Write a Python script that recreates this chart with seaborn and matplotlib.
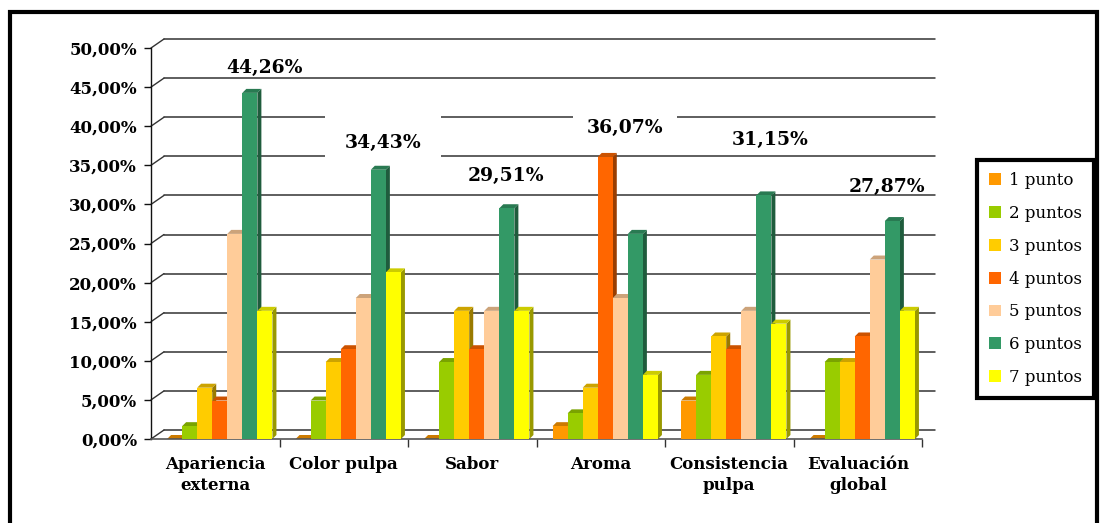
import numpy as np
import pandas as pd
import seaborn as sns
import matplotlib.pyplot as plt
from matplotlib.patches import Polygon, Rectangle
from matplotlib.colors import to_rgb

# ---- data (percentage of panelists per score) ----
atributos = ["Apariencia\nexterna", "Color pulpa", "Sabor", "Aroma",
             "Consistencia\npulpa", "Evaluación\nglobal"]
puntuaciones = ["1 punto", "2 puntos", "3 puntos", "4 puntos",
                "5 puntos", "6 puntos", "7 puntos"]
p1 = [0.00, 0.00, 0.00, 1.64, 4.92, 0.00]
p2 = [1.64, 4.92, 9.84, 3.28, 8.20, 9.84]
p3 = [6.56, 9.84, 16.39, 6.56, 13.11, 9.84]
p4 = [4.92, 11.48, 11.48, 36.07, 11.48, 13.11]
p5 = [26.23, 18.03, 16.39, 18.03, 16.39, 22.95]
p6 = [44.26, 34.43, 29.51, 26.23, 31.15, 27.87]
p7 = [16.39, 21.31, 16.39, 8.20, 14.75, 16.39]
y_ticks = [0, 5, 10, 15, 20, 25, 30, 35, 40, 45, 50]

series = [p1, p2, p3, p4, p5, p6, p7]
colores = ["#FF9900", "#99CC00", "#FFCC00", "#FF6600",
           "#FFCC99", "#339966", "#FFFF00"]

df = pd.DataFrame({
    "Atributo": atributos * len(puntuaciones),
    "Puntuación": [p for p in puntuaciones for _ in atributos],
    "Porcentaje": [v for s in series for v in s],
})

sns.set_style("white")
plt.rcParams["font.family"] = ["DejaVu Serif"]
plt.rcParams["text.color"] = "black"
plt.rcParams["xtick.color"] = "black"
plt.rcParams["ytick.color"] = "black"

W, H = 1106, 523
fig = plt.figure(figsize=(W / 100, H / 100), dpi=100)
ax = fig.add_axes([151 / W, 1 - 439 / H, (922 - 151) / W, (439 - 48) / H])

sns.barplot(data=df, x="Atributo", y="Porcentaje", hue="Puntuación",
            order=atributos, hue_order=puntuaciones, palette=colores,
            saturation=1, width=0.82, dodge=True, legend=False,
            edgecolor="none", linewidth=0, ax=ax)

n_cat = len(atributos)
ax.set_xlim(-0.5, n_cat - 0.5)
ax.set_ylim(0, 50)

# pixel -> data conversions
px_x = n_cat / (922 - 151)
px_y = 50 / (439 - 48)

# back wall gridlines (3-D look)
wall_dx, wall_dy = 13 * px_x, 9 * px_y
for v in y_ticks:
    ax.plot([-0.5 + wall_dx, n_cat - 0.5 + wall_dx], [v + wall_dy] * 2,
            color="#333333", lw=1.1, clip_on=False, zorder=0.5)
    ax.plot([-0.5, -0.5 + wall_dx], [v, v + wall_dy],
            color="#333333", lw=1.0, clip_on=False, zorder=0.5)


def shade(c, f):
    r, g, b = to_rgb(c)
    return (r * f, g * f, b * f)


# 3-D bar faces
bars = [p for p in ax.patches if isinstance(p, Rectangle)]
shift = 4.5 * px_x
ddx, ddy = 4 * px_x, 4 * px_y
for b in bars:
    b.set_x(b.get_x() + shift)
    b.set_zorder(3)
    x0, w, h = b.get_x(), b.get_width(), b.get_height()
    x1 = x0 + w
    fc = b.get_facecolor()
    side = Polygon([(x1, 0), (x1 + ddx, ddy), (x1 + ddx, h + ddy), (x1, h)],
                   closed=True, facecolor=shade(fc, 0.6), edgecolor="none",
                   zorder=2, clip_on=False)
    top = Polygon([(x0, h), (x0 + ddx, h + ddy), (x1 + ddx, h + ddy), (x1, h)],
                  closed=True, facecolor=shade(fc, 0.8), edgecolor="none",
                  zorder=2, clip_on=False)
    ax.add_patch(side)
    ax.add_patch(top)

# value labels for the highest score of each attribute
label_offsets = [(15, 25), (5, 27), (-1, 32), (20, 29), (6, 55), (-5, 34)]
label_pads = [None, 14, None, 10, None, None]
for i in range(n_cat):
    vals = [s[i] for s in series]
    j = int(np.argmax(vals))
    b = bars[j * n_cat + i]
    cx = b.get_x() + b.get_width() / 2
    dx, dy = label_offsets[i]
    box = None
    if label_pads[i] is not None:
        box = dict(facecolor="white", edgecolor="none", pad=label_pads[i])
    ax.annotate(f"{vals[j]:.2f}%".replace(".", ","), xy=(cx, b.get_height()),
                xytext=(dx, dy), textcoords="offset pixels",
                ha="center", va="center", fontsize=13.5, fontweight="bold",
                bbox=box, zorder=1, annotation_clip=False)

# axes styling
sns.despine(ax=ax, top=True, right=True)
ax.spines["left"].set_color("#111111")
ax.spines["left"].set_linewidth(1.0)
ax.spines["bottom"].set_color("#555555")
ax.spines["bottom"].set_linewidth(1.2)
ax.set_yticks(y_ticks)
ax.set_yticklabels([f"{v:.2f}%".replace(".", ",") for v in y_ticks],
                   fontsize=12, fontweight="bold")
ax.tick_params(axis="y", length=5, width=1, color="#111111", pad=5, left=True)
ax.set_xticks(range(n_cat))
ax.set_xticklabels(atributos, fontsize=12, fontweight="bold", linespacing=1.3)
ax.tick_params(axis="x", length=0, pad=12)
ax.set_xticks([k + 0.5 for k in range(n_cat)], minor=True)
ax.tick_params(axis="x", which="minor", length=6, width=1, color="#333333",
               bottom=True)
ax.set_xlabel("")
ax.set_ylabel("")
ax.set_facecolor("none")

# legend
handles = [Rectangle((0, 0), 1, 1, facecolor=c, edgecolor="none") for c in colores]
leg = fig.legend(handles, puntuaciones, loc="upper left",
                 bbox_to_anchor=(977 / W, 1 - 160 / H), frameon=True,
                 fancybox=False, edgecolor="black", framealpha=1,
                 prop=dict(family="DejaVu Serif", size=12),
                 handlelength=0.72, handleheight=0.72, labelspacing=0.95,
                 borderpad=0.72, handletextpad=0.5, borderaxespad=0)
leg.get_frame().set_linewidth(3)

# outer frame of the chart area
fig.add_artist(Rectangle((10 / W, -0.05), (1097 - 10) / W, 1.05 - 12 / H,
                         transform=fig.transFigure, fill=False,
                         edgecolor="black", linewidth=3, clip_on=False))

fig.savefig("out.png", dpi=100)
